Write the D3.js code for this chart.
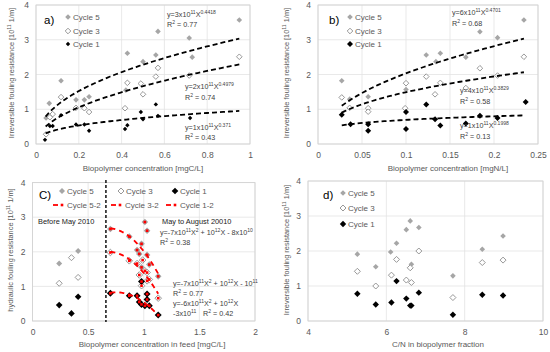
<!DOCTYPE html>
<html>
<head>
<meta charset="utf-8">
<script src="https://cdn.jsdelivr.net/npm/d3@7"></script>
<style>
  body { margin: 0; background: #fff; }
  svg { font-family: "Liberation Sans", Arial, sans-serif; }
  .tick text { fill: #595959; font-size: 8.5px; }
  .ttl { fill: #595959; font-size: 8px; }
  .leg { fill: #595959; font-size: 8px; }
  .eq  { fill: #404040; font-size: 7.2px; }
</style>
</head>
<body>
<svg id="main" width="550" height="352"></svg>
<script>
// ---------- data (values in 10^11 1/m) ----------
// panel a : biopolymer mgC/L
var aCycle5 = [[0.047,0.75],[0.062,1.17],[0.117,1.82],[0.187,1.27],[0.226,1.27],[0.248,1.36],
               [0.427,2.61],[0.42,1.55],[0.50,2.37],[0.56,2.56],[0.57,3.24],[0.716,3.05],[0.73,2.50],[0.95,3.57]];
var aCycle3 = [[0.047,0.28],[0.065,0.77],[0.078,0.86],[0.117,1.35],[0.187,1.04],[0.226,1.03],[0.248,0.92],
               [0.416,1.03],[0.427,1.76],[0.49,1.74],[0.50,1.43],[0.56,1.94],[0.57,2.19],[0.716,1.97],[0.95,2.51]];
var aCycle1 = [[0.042,0.12],[0.065,0.52],[0.078,0.52],[0.117,0.83],[0.187,0.56],[0.226,0.56],[0.248,0.38],
               [0.416,0.43],[0.427,0.54],[0.49,0.92],[0.50,0.71],[0.56,1.14],[0.57,0.81],[0.72,0.75]];
var aFitCoef = [3.1, 2.35, 0.97];
var aFitExp  = [0.4418, 0.4979, 0.371];
var aFitRange = [0.045, 0.95];
var aEq = ["y=3x10^{11}X^{0.4418}", "y=2x10^{11}X^{0.4979}", "y=1x10^{11}X^{0.371}"];
var aR2 = ["R^{2} = 0.77", "R^{2} = 0.74", "R^{2} = 0.43"];

// panel b : biopolymer mgN/L
var bCycle5 = [[0.027,1.82],[0.036,1.29],[0.057,1.36],[0.10,1.57],[0.123,2.56],[0.134,2.37],[0.139,2.61],
               [0.168,2.50],[0.184,3.23],[0.204,3.06],[0.234,3.57]];
var bCycle3 = [[0.027,1.34],[0.036,1.04],[0.057,1.03],[0.057,0.93],[0.099,1.03],[0.10,1.75],[0.123,1.94],
               [0.133,1.43],[0.139,1.76],[0.168,1.61],[0.184,2.18],[0.204,1.97],[0.234,2.51]];
var bCycle1 = [[0.027,0.84],[0.037,0.57],[0.057,0.57],[0.057,0.38],[0.10,0.43],[0.10,0.92],[0.123,1.14],
               [0.133,0.71],[0.139,0.53],[0.168,0.59],[0.184,0.81],[0.204,0.75],[0.236,1.21]];
var bFitCoef = [6.0, 3.6, 1.1];
var bFitExp  = [0.4701, 0.3829, 0.1998];
var bFitRange = [0.027, 0.234];
var bEq = ["y=6x10^{11}X^{0.4701}", "y=4x10^{11}X^{0.3829}", "y=1x10^{11}X^{0.1998}"];
var bR2 = ["R^{2} = 0.68", "R^{2} = 0.58", "R^{2} = 0.13"];

// panel c : biopolymer in feed, before / after May 2010
var cCycle5 = [[0.24,1.66],[0.41,2.02]];
var cCycle3 = [[0.24,1.09],[0.35,1.83],[0.41,1.26]];
var cCycle1 = [[0.24,0.46],[0.35,0.22],[0.41,0.70]];
var cCycle52 = [[0.70,2.66],[0.87,2.44],[0.94,2.05],[0.96,1.94],[0.98,2.23],[0.98,1.55],[1.01,2.86],
                [1.03,2.61],[1.03,1.91],[1.05,1.63],[1.13,1.29]];
var cCycle32 = [[0.70,1.98],[0.87,1.74],[0.94,1.66],[0.96,1.33],[0.99,1.76],[0.98,1.02],[1.01,1.45],
                [1.03,1.40],[1.03,1.16],[1.05,1.20],[1.13,0.66]];
var cCycle12 = [[0.70,0.80],[0.87,0.73],[0.94,0.73],[0.96,0.55],[0.98,1.14],[0.98,0.48],[1.01,0.44],
                [1.03,0.78],[1.03,0.62],[1.05,0.44],[1.13,0.17]];
var cFitQuad = [[-6.5, 8.84, -0.326], [-6.0, 8.16, -0.774], [-4.6, 6.9, -1.7575]];
var cFitRange = [0.70, 1.13];
var cSplit = 0.66;

// panel d : C/N ratio
var dCycle5 = [[5.26,1.91],[5.73,1.55],[6.11,1.97],[6.26,2.22],[6.51,2.61],[6.61,2.86],[6.64,1.62],
               [6.83,2.67],[7.70,1.29],[8.45,2.05],[8.98,2.43]];
var dCycle3 = [[5.26,1.42],[5.73,1.00],[6.13,1.31],[6.26,1.76],[6.51,1.17],[6.61,1.52],[6.64,1.10],
               [6.83,2.00],[7.70,0.67],[8.45,1.67],[8.98,1.74]];
var dCycle1 = [[5.26,0.78],[5.73,0.47],[6.13,0.53],[6.26,1.14],[6.51,0.64],[6.61,0.44],[6.64,0.44],
               [6.83,0.81],[7.70,0.18],[8.45,0.75],[8.98,0.73]];

var yTicks = [0, 1, 2, 3, 4];

// ---------- helpers ----------
var svg = d3.select("#main");
var GRAY = "#a6a6a6", OPEN = "#8c8c8c", RED = "#ff0000";

function diamond(r) { return "M0," + (-r) + "L" + r + ",0L0," + r + "L" + (-r) + ",0Z"; }

// text with ^{..} superscripts; the drop back down goes on the next tspan
function richText(sel, str) {
  var parts = str.split(/(\^\{[^}]*\})/).filter(p => p);
  var back = 0;
  parts.forEach(function(p) {
    if (p[0] === "^") {
      sel.append("tspan").attr("dy", -3 + back).style("font-size", "0.7em").text(p.slice(2, -1));
      back = 3;
    } else {
      sel.append("tspan").attr("dy", back).text(p);
      back = 0;
    }
  });
  return sel;
}

function panel(cfg) {
  var g = svg.append("g");
  var x = d3.scaleLinear().domain(cfg.xd).range(cfg.xr);
  var y = d3.scaleLinear().domain([0, 4]).range(cfg.yr);

  // grid
  g.append("g").selectAll("line").data(cfg.xt).enter().append("line")
    .attr("x1", d => x(d)).attr("x2", d => x(d)).attr("y1", cfg.yr[0]).attr("y2", cfg.yr[1])
    .attr("stroke", "#e3e3e3").attr("stroke-width", 0.8);
  g.append("g").selectAll("line").data(yTicks).enter().append("line")
    .attr("y1", d => y(d)).attr("y2", d => y(d)).attr("x1", cfg.xr[0]).attr("x2", cfg.xr[1])
    .attr("stroke", "#e3e3e3").attr("stroke-width", 0.8);
  g.append("rect").attr("x", cfg.xr[0]).attr("y", cfg.yr[1])
    .attr("width", cfg.xr[1] - cfg.xr[0]).attr("height", cfg.yr[0] - cfg.yr[1])
    .attr("fill", "none").attr("stroke", "#d0d0d0").attr("stroke-width", 0.8);

  // axes
  var ax = g.append("g").attr("transform", "translate(0," + (cfg.yr[0] + 3) + ")")
    .call(d3.axisBottom(x).tickValues(cfg.xt).tickSize(0).tickFormat(cfg.fmt || d3.format("")));
  ax.select(".domain").remove();
  ax.selectAll("text").attr("dy", "0.9em");
  var ay = g.append("g").attr("transform", "translate(" + (cfg.xr[0] - 7) + ",0)")
    .call(d3.axisLeft(y).tickValues(yTicks).tickSize(0).tickFormat(d3.format("d")));
  ay.select(".domain").remove();
  ay.selectAll("text").attr("x", 0);

  // titles
  g.append("text").attr("class", "ttl").attr("x", cfg.xtPos[0]).attr("y", cfg.xtPos[1])
    .attr("text-anchor", "middle").text(cfg.xTitle);
  var yt = g.append("text").attr("class", "ttl").attr("text-anchor", "middle")
    .attr("transform", "translate(" + cfg.ytPos[0] + "," + cfg.ytPos[1] + ") rotate(-90)")
    .style("font-size", "7.4px");
  richText(yt, cfg.yTitle);

  g.append("text").attr("x", cfg.lab[0]).attr("y", cfg.lab[1]).text(cfg.label)
    .style("font-size", "11.5px").attr("fill", "#000");

  return { g: g, x: x, y: y };
}

function points(p, data, kind, r) {
  var sel = p.g.append("g").selectAll("path").data(data).enter().append("path")
    .attr("transform", d => "translate(" + p.x(d[0]) + "," + p.y(d[1]) + ")")
    .attr("d", diamond(r));
  if (kind === 5) sel.attr("fill", GRAY);
  else if (kind === 3) sel.attr("fill", "#fff").attr("stroke", OPEN).attr("stroke-width", 0.9);
  else sel.attr("fill", "#000");
}

function legendItem(g, xm, ym, kind, r, label) {
  var m = g.append("path").attr("transform", "translate(" + xm + "," + ym + ")").attr("d", diamond(r));
  if (kind === 5) m.attr("fill", GRAY);
  else if (kind === 3) m.attr("fill", "#fff").attr("stroke", OPEN).attr("stroke-width", 0.9);
  else m.attr("fill", "#000");
  g.append("text").attr("class", "leg").attr("x", xm + 5).attr("y", ym + 3).text(label);
}

function powerLine(p, a, b, range) {
  var xs = d3.range(0, 61).map(i => range[0] + (range[1] - range[0]) * i / 60);
  var line = d3.line().x(d => p.x(d)).y(d => p.y(a * Math.pow(d, b)));
  p.g.append("path").datum(xs).attr("d", line).attr("fill", "none")
    .attr("stroke", "#000").attr("stroke-width", 1.8).attr("stroke-dasharray", "5,3");
}

function quadLine(p, q, range) {
  var xs = d3.range(0, 41).map(i => range[0] + (range[1] - range[0]) * i / 40);
  var line = d3.line().x(d => p.x(d)).y(d => p.y(q[0] * d * d + q[1] * d + q[2]));
  p.g.append("path").datum(xs).attr("d", line).attr("fill", "none")
    .attr("stroke", RED).attr("stroke-width", 1.8).attr("stroke-dasharray", "5,4");
}

function eqText(g, x, y, str) { richText(g.append("text").attr("class", "eq").attr("x", x).attr("y", y), str); }

var yTitleIrr = "Irreversible fouling resistance [10^{11} 1/m]";

// ---------- panel a ----------
var pa = panel({ xd: [0, 1], xr: [36, 250], yr: [144, 5], xt: [0, 0.2, 0.4, 0.6, 0.8, 1],
  xTitle: "Biopolymer concentration [mgC/L]", xtPos: [143, 171], ytPos: [14, 73],
  yTitle: yTitleIrr, label: "a)", lab: [44, 24] });
points(pa, aCycle5, 5, 2.8);
points(pa, aCycle3, 3, 2.8);
points(pa, aCycle1, 1, 2.2);
aFitCoef.forEach((a, i) => powerLine(pa, a, aFitExp[i], aFitRange));
legendItem(pa.g, 68, 17, 5, 2.8, "Cycle 5");
legendItem(pa.g, 68, 31, 3, 2.8, "Cycle 3");
legendItem(pa.g, 68, 44, 1, 2.2, "Cycle 1");
eqText(pa.g, 167, 17, aEq[0]); eqText(pa.g, 167, 27, aR2[0]);
eqText(pa.g, 185, 89, aEq[1]); eqText(pa.g, 185, 100, aR2[1]);
eqText(pa.g, 185, 130, aEq[2]); eqText(pa.g, 185, 140, aR2[2]);

// ---------- panel b ----------
var pb = panel({ xd: [0, 0.25], xr: [318, 538], yr: [144, 5], xt: [0, 0.05, 0.1, 0.15, 0.2, 0.25],
  xTitle: "Biopolymer concentration [mgN/L]", xtPos: [448, 171], ytPos: [289, 73],
  yTitle: yTitleIrr, label: "b)", lab: [329, 24] });
points(pb, bCycle5, 5, 2.8);
points(pb, bCycle3, 3, 2.8);
points(pb, bCycle1, 1, 3);
bFitCoef.forEach((a, i) => powerLine(pb, a, bFitExp[i], bFitRange));
legendItem(pb.g, 350, 17, 5, 2.8, "Cycle 5");
legendItem(pb.g, 350, 31, 3, 2.8, "Cycle 3");
legendItem(pb.g, 350, 44, 1, 3, "Cycle 1");
eqText(pb.g, 452, 15, bEq[0]); eqText(pb.g, 452, 26, bR2[0]);
eqText(pb.g, 460, 93, bEq[1]); eqText(pb.g, 460, 104, bR2[1]);
eqText(pb.g, 460, 128, bEq[2]); eqText(pb.g, 460, 139, bR2[2]);

// ---------- panel c ----------
var pc = panel({ xd: [0, 2], xr: [32.5, 255], yr: [321, 182.6], xt: [0, 0.5, 1, 1.5, 2],
  fmt: d3.format(""), xTitle: "Biopolymer concentration in feed [mgC/L]", xtPos: [152, 347],
  ytPos: [13, 250], yTitle: "hydraulic  fouling resistance [10^{11} 1/m]", label: "C)", lab: [39, 199] });
pc.g.append("line").attr("x1", pc.x(cSplit)).attr("x2", pc.x(cSplit)).attr("y1", 180).attr("y2", 322)
  .attr("stroke", "#000").attr("stroke-width", 1.4).attr("stroke-dasharray", "3,2");
points(pc, cCycle5, 5, 3);
points(pc, cCycle3, 3, 3);
points(pc, cCycle1, 1, 3.3);
points(pc, cCycle52, 5, 3.3);
points(pc, cCycle32, 3, 3.3);
points(pc, cCycle12, 1, 3.5);
cFitQuad.forEach(q => quadLine(pc, q, cFitRange));
[cCycle52, cCycle32, cCycle12].forEach(function(s) {
  pc.g.append("g").selectAll("rect").data(s).enter().append("rect")
    .attr("x", d => pc.x(d[0]) - 1.3).attr("y", d => pc.y(d[1]) - 1.3)
    .attr("width", 2.6).attr("height", 2.6).attr("fill", RED);
});
legendItem(pc.g, 62, 191, 5, 3, "Cycle 5");
legendItem(pc.g, 121, 191, 3, 3, "Cycle 3");
legendItem(pc.g, 175, 191, 1, 3.3, "Cycle 1");
[[62, "Cycle 5-2"], [120, "Cycle 3-2"], [175, "Cycle 1-2"]].forEach(function(l) {
  pc.g.append("line").attr("x1", l[0] - 9).attr("x2", l[0] - 4).attr("y1", 205).attr("y2", 205)
    .attr("stroke", RED).attr("stroke-width", 1.8);
  pc.g.append("rect").attr("x", l[0] - 1.3).attr("y", 203.7).attr("width", 2.6).attr("height", 2.6).attr("fill", RED);
  pc.g.append("text").attr("class", "leg").attr("x", l[0] + 5).attr("y", 208).text(l[1]);
});
pc.g.append("text").attr("x", 38).attr("y", 224).text("Before May 2010")
  .style("font-size", "7.4px").attr("fill", "#222");
pc.g.append("text").attr("x", 162).attr("y", 224).text("May to August 20010")
  .style("font-size", "7.4px").attr("fill", "#222");
eqText(pc.g, 160, 235, "y=-7x10^{11}X^{2} + 10^{12}X - 8x10^{10}");
eqText(pc.g, 160, 245, "R^{2} = 0.38");
eqText(pc.g, 173, 286, "y=-7x10^{11}X^{2} + 10^{12}X - 10^{11}");
eqText(pc.g, 173, 296, "R^{2} = 0.77");
eqText(pc.g, 173, 306, "y=-6x10^{11}X^{2} + 10^{12}X");
eqText(pc.g, 173, 316, "-3x10^{11}");
eqText(pc.g, 203, 316, "R^{2} = 0.42");

// ---------- panel d ----------
var pd = panel({ xd: [4, 10], xr: [308, 543], yr: [321, 181], xt: [4, 6, 8, 10],
  xTitle: "C/N in biopolymer fraction", xtPos: [438, 347], ytPos: [289, 250],
  yTitle: yTitleIrr, label: "d)", lab: [323, 199] });
points(pd, dCycle5, 5, 2.8);
points(pd, dCycle3, 3, 3);
points(pd, dCycle1, 1, 3.2);
legendItem(pd.g, 343, 193, 5, 2.8, "Cycle 5");
legendItem(pd.g, 343, 208, 3, 3, "Cycle 3");
legendItem(pd.g, 343, 224, 1, 3.2, "Cycle 1");
</script>
</body>
</html>
